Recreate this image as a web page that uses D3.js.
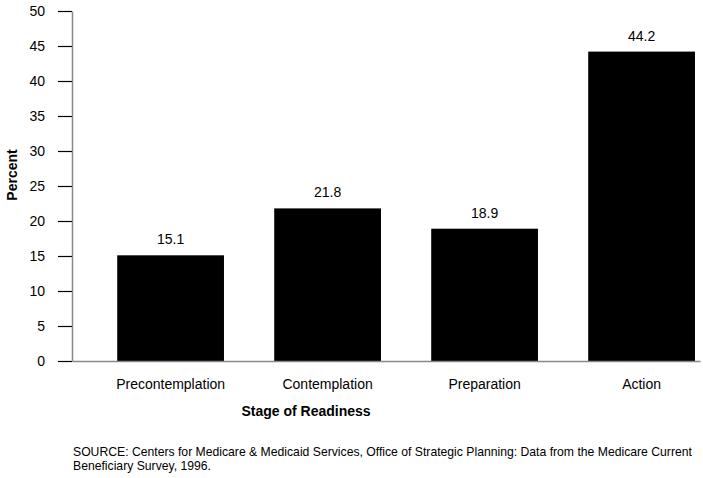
<!DOCTYPE html>
<html>
<head>
<meta charset="utf-8">
<script src="https://cdn.jsdelivr.net/npm/d3@7"></script>
<style>
  body { margin: 0; background: #fff; }
  text { font-family: "Liberation Sans", Arial, sans-serif; fill: #000; }
</style>
</head>
<body>
<svg></svg>
<script>
let width = 703;
let height = 478;

let stages = ['Precontemplation', 'Contemplation', 'Preparation', 'Action'];
let percents = [15.1, 21.8, 18.9, 44.2];
let yTicks = [0, 5, 10, 15, 20, 25, 30, 35, 40, 45, 50];
let sourceLines = [
  'SOURCE: Centers for Medicare & Medicaid Services, Office of Strategic Planning: Data from the Medicare Current',
  'Beneficiary Survey, 1996.'
];

let data = stages.map((s, i) => ({ stage: s, value: percents[i] }));

let plotLeft = 72, plotRight = 700, plotTop = 11, plotBottom = 361;

let xScale = d3.scaleBand()
  .domain(stages)
  .range([plotLeft, plotRight])
  .paddingInner(0.32)
  .paddingOuter(0.16)
  .align(0.9);

let yScale = d3.scaleLinear()
  .domain([0, 50])
  .range([plotBottom, plotTop]);

let svg = d3.select('svg')
  .attr('width', width)
  .attr('height', height);

// bars
svg.selectAll('.bar')
  .data(data)
  .enter()
  .append('rect')
    .attr('x', d => xScale(d.stage))
    .attr('y', d => yScale(d.value))
    .attr('width', xScale.bandwidth())
    .attr('height', d => plotBottom - yScale(d.value))
    .attr('fill', '#000');

// value labels
svg.selectAll('.val')
  .data(data)
  .enter()
  .append('text')
    .attr('x', d => xScale(d.stage) + xScale.bandwidth() / 2)
    .attr('y', d => yScale(d.value) - 11)
    .style('text-anchor', 'middle')
    .style('font-size', '14px')
    .text(d => d.value.toFixed(1));

// y axis
let yAxis = svg.append('g')
  .attr('transform', `translate(${plotLeft}, 0)`)
  .call(d3.axisLeft(yScale).tickValues(yTicks).tickSize(14).tickPadding(13).tickSizeOuter(0));
yAxis.select('.domain').attr('stroke', '#888').attr('stroke-width', 1.5);
yAxis.selectAll('.tick line').attr('stroke', '#000').attr('stroke-width', 1.2);
yAxis.selectAll('.tick text')
  .style('font-family', '"Liberation Sans", Arial, sans-serif')
  .style('font-size', '14px')
  .attr('fill', '#000');

// x axis
let xAxis = svg.append('g')
  .attr('transform', `translate(0, ${plotBottom})`)
  .call(d3.axisBottom(xScale).tickSize(0).tickPadding(18).tickSizeOuter(0));
xAxis.select('.domain').attr('stroke', '#888').attr('stroke-width', 1.5);
xAxis.selectAll('.tick text')
  .style('font-family', '"Liberation Sans", Arial, sans-serif')
  .style('font-size', '14px')
  .attr('fill', '#000');

// axis titles
svg.append('text')
  .attr('x', 306)
  .attr('y', 416)
  .style('text-anchor', 'middle')
  .style('font-size', '14px')
  .style('font-weight', 'bold')
  .text('Stage of Readiness');

svg.append('text')
  .attr('transform', 'rotate(-90)')
  .attr('x', -175)
  .attr('y', 17)
  .style('text-anchor', 'middle')
  .style('font-size', '14px')
  .style('font-weight', 'bold')
  .text('Percent');

// source note
svg.selectAll('.src')
  .data(sourceLines)
  .enter()
  .append('text')
    .attr('x', 73)
    .attr('y', (d, i) => 456 + i * 14)
    .style('font-size', '12.2px')
    .text(d => d);
</script>
</body>
</html>
